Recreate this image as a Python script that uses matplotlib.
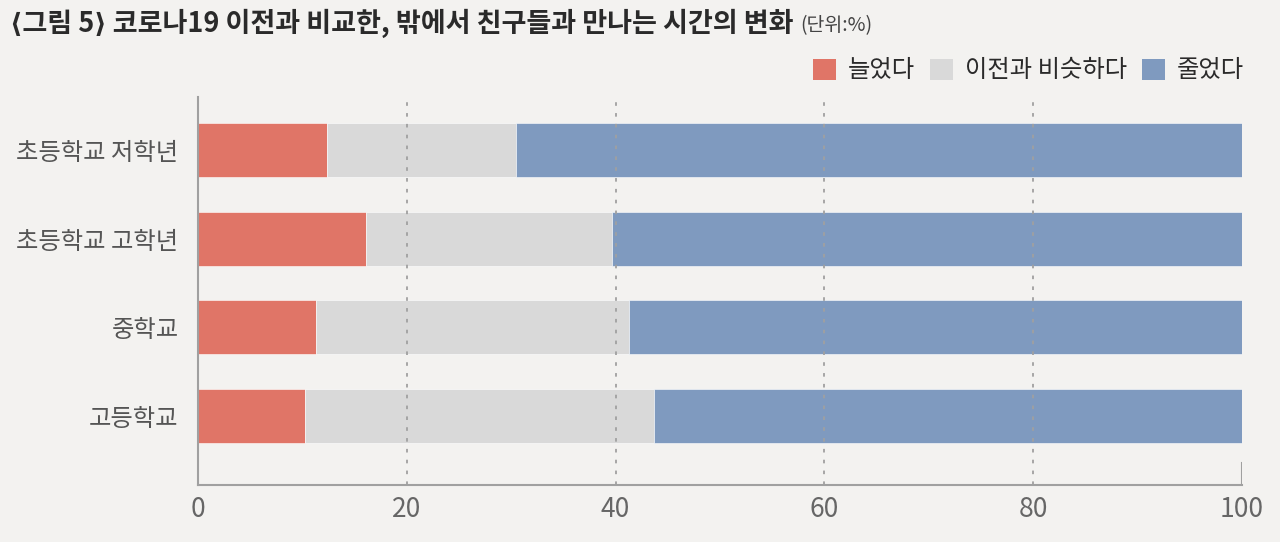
import matplotlib
matplotlib.use('Agg')
import matplotlib.pyplot as plt
from matplotlib.patches import Patch

plt.rcParams['font.family'] = ['Noto Sans CJK KR', 'DejaVu Sans']

groups = ['초등학교 저학년', '초등학교 고학년', '중학교', '고등학교']
increased = [12.4, 16.1, 11.3, 10.2]
similar = [18.1, 23.6, 30.0, 33.5]
decreased = [69.5, 60.3, 58.7, 56.3]
series_names = ['늘었다', '이전과 비슷하다', '줄었다']
colors = ['#E07567', '#D9D9D9', '#7F9ABF']
xticks = [0, 20, 40, 60, 80, 100]

bg = '#F3F2F0'
fig = plt.figure(figsize=(12.8, 5.42), dpi=100, facecolor=bg)
ax = fig.add_axes([0.1547, 0.105, 0.8156, 0.716], facecolor=bg)

# Stacked horizontal bars.
ypos = list(range(len(groups)))
left = [0] * len(groups)
for vals, col in zip([increased, similar, decreased], colors):
    ax.barh(ypos, vals, left=left, height=0.61, color=col,
            edgecolor='white', linewidth=0.4, zorder=2)
    left = [a + b for a, b in zip(left, vals)]

ax.set_xlim(0, 100)
ax.set_ylim(3.785, -0.6)
ax.set_yticks(ypos)
ax.set_yticklabels(groups, fontsize=17.5, color='#555555')
ax.set_xticks(xticks)
ax.set_xticklabels([str(t) for t in xticks], fontsize=19, color='#666666',
                   fontweight='light')
ax.tick_params(axis='y', length=0, pad=14)
ax.tick_params(axis='x', length=0, pad=8)

for x in xticks[1:-1]:
    ax.axvline(x, color='#A0A0A0', linestyle=(0, (2, 4)), linewidth=1.3, zorder=3)
ax.axvline(100, ymin=0, ymax=0.056, color='#A0A0A0', linewidth=1.5, zorder=3)

for side in ['top', 'right']:
    ax.spines[side].set_visible(False)
for side in ['left', 'bottom']:
    ax.spines[side].set_color('#A0A0A0')
    ax.spines[side].set_linewidth(1.5)

# Title and unit.
title = fig.text(0.008, 0.957, '⟨그림 5⟩ 코로나19 이전과 비교한, 밖에서 친구들과 만나는 시간의 변화',
                 fontsize=19.5, fontweight='bold', color='#2A2A2A', va='center')
fig.canvas.draw()
bb = title.get_window_extent().transformed(fig.transFigure.inverted())
fig.text(bb.x1 + 0.005, 0.952, '(단위:%)', fontsize=14, color='#444444', va='center')

# Legend.
handles = [Patch(facecolor=c, edgecolor='none') for c in colors]
fig.legend(handles, series_names, loc='center right', bbox_to_anchor=(0.972, 0.87),
           ncol=3, frameon=False, fontsize=17.5, handlelength=0.95, handleheight=0.95,
           handletextpad=0.5, columnspacing=0.6, labelcolor='#2A2A2A',
           borderpad=0, borderaxespad=0)

fig.savefig('out.png', dpi=100, facecolor=bg)
